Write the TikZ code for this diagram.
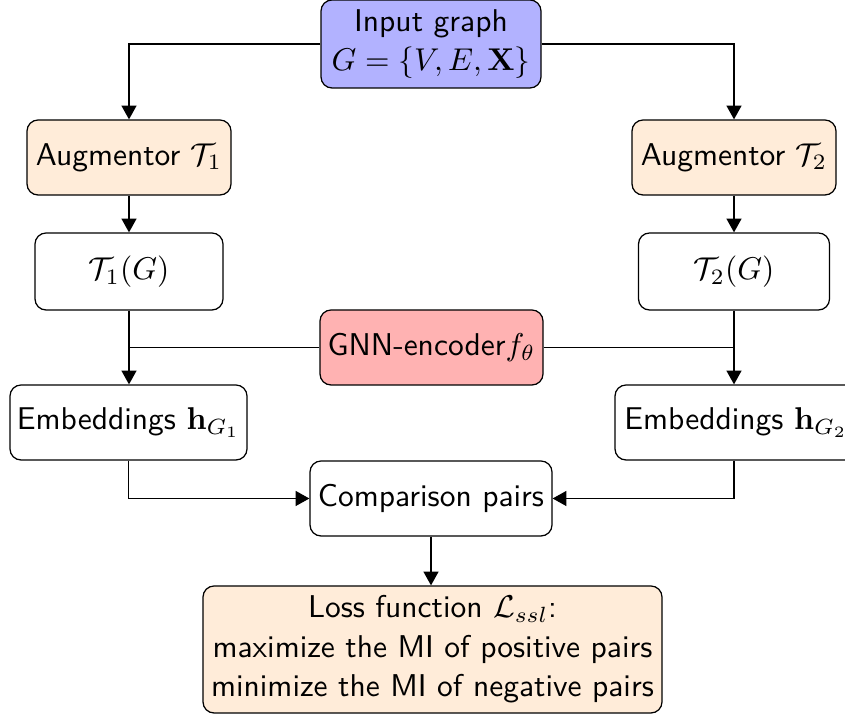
\documentclass[tikz,border=0pt]{standalone}
\usetikzlibrary{arrows.meta}
\newcommand\pxu{0.3175pt}
\begin{document}
\begin{tikzpicture}[x=\pxu,y=-\pxu,
  box/.style={draw=black, line width=0.4pt, rounded corners=3.5pt, align=center, inner sep=0pt,
    font=\sffamily\fontsize{10}{12.5}\selectfont},
  conn/.style={line width=0.4pt, -{Triangle[length=4.4pt,width=4.8pt]}},
  plain/.style={line width=0.4pt}]
\useasboundingbox (0,0) rectangle (845,716);
\node[box, fill=blue!30, minimum width=220*\pxu, minimum height=88*\pxu] (inp) at (431,44) {Input graph\\$G=\{V,E,\mathbf{X}\}$};
\node[box, fill=orange!15, minimum width=204*\pxu, minimum height=75*\pxu] (a1) at (129,157.5) {Augmentor $\mathcal{T}_1$};
\node[box, fill=orange!15, minimum width=204*\pxu, minimum height=75*\pxu] (a2) at (734,157.5) {Augmentor $\mathcal{T}_2$};
\node[box, fill=white, minimum width=188*\pxu, minimum height=77*\pxu] (t1) at (129,271.5) {$\mathcal{T}_1(G)$};
\node[box, fill=white, minimum width=191*\pxu, minimum height=77*\pxu] (t2) at (734,271.5) {$\mathcal{T}_2(G)$};
\node[box, fill=red!30, minimum width=223*\pxu, minimum height=75*\pxu] (gnn) at (431.5,347.5) {GNN-encoder$f_\theta$};
\node[box, fill=white, minimum width=237*\pxu, minimum height=75*\pxu] (e1) at (128.5,422.5) {Embeddings $\mathbf{h}_{G_1}$};
\node[box, fill=white, minimum width=242*\pxu, minimum height=75*\pxu] (e2) at (736,422.5) {Embeddings $\mathbf{h}_{G_2}$};
\node[box, fill=white, minimum width=242*\pxu, minimum height=75*\pxu] (cmp) at (431,498.5) {Comparison pairs};
\node[box, fill=orange!15, minimum width=459*\pxu, minimum height=127*\pxu] (loss) at (432.5,649.5) {Loss function $\mathcal{L}_{ssl}$:\\maximize the MI of positive pairs\\minimize the MI of negative pairs};
\draw[conn] (inp.west) -| (a1.north);
\draw[conn] (inp.east) -| (a2.north);
\draw[conn] (a1.south) -- (t1.north);
\draw[conn] (a2.south) -- (t2.north);
\draw[conn] (t1.south) -- (t1.south |- e1.north);
\draw[conn] (t2.south) -- (t2.south |- e2.north);
\draw[plain] (gnn.west) -- (gnn.west -| t1.south);
\draw[plain] (gnn.east) -- (gnn.east -| t2.south);
\draw[conn] (e1.south) |- (cmp.west);
\draw[conn] (t2.south |- e2.south) |- (cmp.east);
\draw[conn] (cmp.south) -- (cmp.south |- loss.north);
\end{tikzpicture}
\end{document}
